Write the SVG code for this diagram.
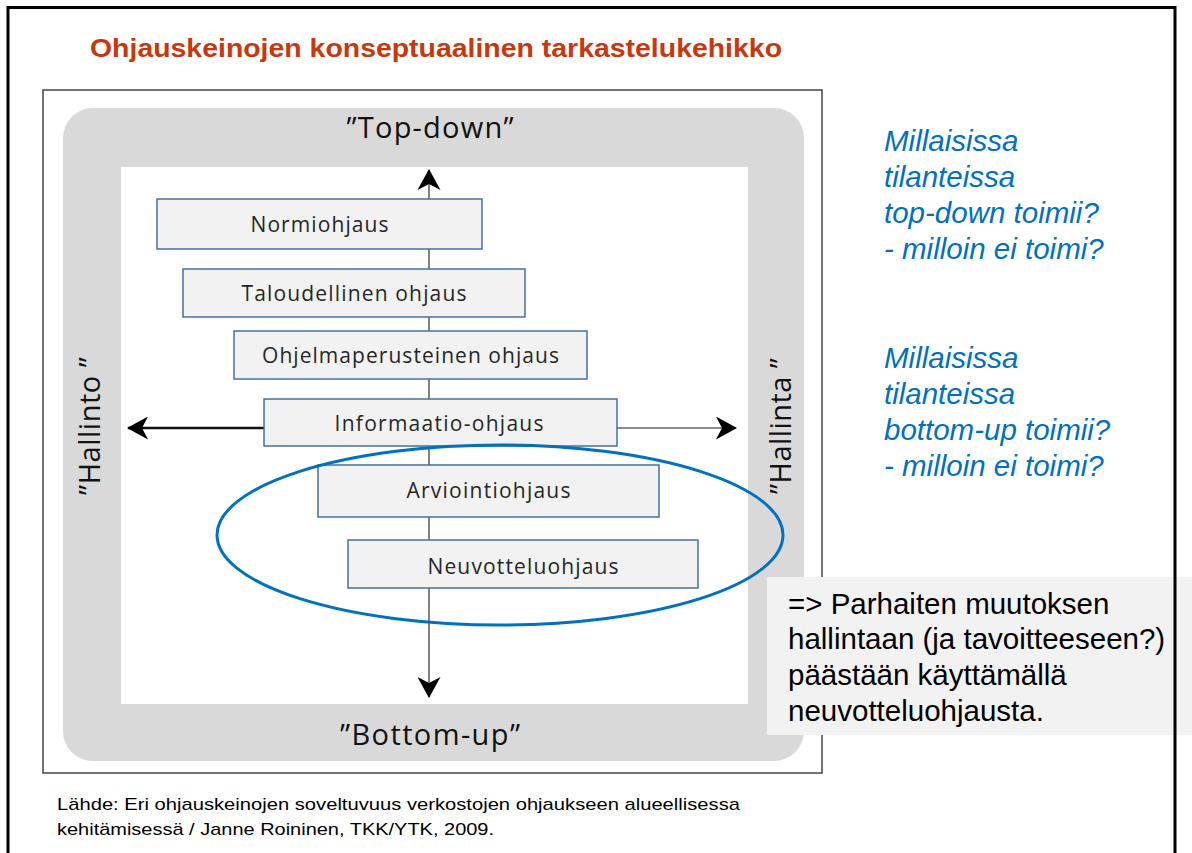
<svg xmlns="http://www.w3.org/2000/svg" width="1192" height="853" viewBox="0 0 1192 853">
<style>
.box{fill:#f2f2f2;stroke:#41719c;stroke-width:1.5}
.nt{font-family:"Open Sans","Noto Sans",sans-serif;font-size:21px;fill:#262626;text-anchor:middle}
.big{font-family:"Open Sans","Noto Sans",sans-serif;font-size:29px;fill:#111;text-anchor:middle}
.q{font-family:"Liberation Sans",Arial,sans-serif;font-size:29.5px;font-style:italic;fill:#0070C0}
.note{font-family:"Liberation Sans",Arial,sans-serif;font-size:29.5px;fill:#000}
.src{font-family:"Liberation Sans",Arial,sans-serif;font-size:17px;fill:#000}
</style>
<defs>
<marker id="ah" markerUnits="userSpaceOnUse" markerWidth="21" markerHeight="23" viewBox="0 0 21 23" refX="20" refY="11.5" orient="auto">
<path d="M0,0 L21,11.5 L0,23 L6,11.5 Z" fill="#000"/>
</marker>
</defs>
<rect width="1192" height="853" fill="#fff"/>
<text x="90" y="57" font-family="Liberation Sans,Arial,sans-serif" font-size="26" font-weight="bold" fill="#C8380E" textLength="692" lengthAdjust="spacingAndGlyphs">Ohjauskeinojen konseptuaalinen tarkastelukehikko</text>
<g id="frame-image">
<rect x="43" y="90" width="779" height="683" fill="#fff" stroke="#444" stroke-width="1.5"/>
<rect x="63" y="108" width="741" height="653" rx="30" ry="30" fill="#d9d9d9"/>
<rect x="121" y="167" width="627" height="537" fill="#fff"/>
</g>
<g id="axis-labels">
<text class="big" x="430" y="138" textLength="167">”Top-down”</text>
<text class="big" x="430" y="745" textLength="180">”Bottom-up”</text>
<text class="big" transform="translate(100,426) rotate(-90)" textLength="138">”Hallinto ”</text>
<text class="big" transform="translate(791,426) rotate(-90)" textLength="136">”Hallinta ”</text>
</g>
<g id="connectors">
<line x1="429" y1="588" x2="429" y2="697" stroke="#595959" stroke-width="1.5" marker-end="url(#ah)"/>
<line x1="429" y1="199" x2="429" y2="170" stroke="#595959" stroke-width="1.5" marker-end="url(#ah)"/>
<line x1="429" y1="249" x2="429" y2="540" stroke="#595959" stroke-width="1.5"/>
<line x1="264" y1="428" x2="128" y2="428" stroke="#111" stroke-width="2.5" marker-end="url(#ah)"/>
<line x1="617" y1="428" x2="736" y2="428" stroke="#8c8c8c" stroke-width="2" marker-end="url(#ah)"/>
</g>
<g id="n-normi"><rect class="box" x="157" y="199" width="325" height="50"/><text class="nt" x="319.5" y="232" textLength="138">Normiohjaus</text></g>
<g id="n-talous"><rect class="box" x="183" y="269" width="342" height="48"/><text class="nt" x="354" y="301" textLength="225">Taloudellinen ohjaus</text></g>
<g id="n-ohjelma"><rect class="box" x="234" y="331" width="353" height="48"/><text class="nt" x="410.5" y="363" textLength="297">Ohjelmaperusteinen ohjaus</text></g>
<g id="n-info"><rect class="box" x="264" y="399" width="353" height="47"/><text class="nt" x="439" y="431" textLength="209">Informaatio-ohjaus</text></g>
<g id="n-arvio"><rect class="box" x="318" y="465" width="341" height="52"/><text class="nt" x="488.5" y="498" textLength="164">Arviointiohjaus</text></g>
<g id="n-neuvo"><rect class="box" x="348" y="540" width="350" height="48"/><text class="nt" x="523" y="574" textLength="191">Neuvotteluohjaus</text></g>
<ellipse id="highlight" cx="500" cy="535" rx="283" ry="90" fill="none" stroke="#0070C0" stroke-width="3"/>
<g id="questions">
<text class="q" x="884" y="151">Millaisissa</text>
<text class="q" x="884" y="187">tilanteissa</text>
<text class="q" x="884" y="223">top-down toimii?</text>
<text class="q" x="884" y="259">- milloin ei toimi?</text>
<text class="q" x="884" y="368">Millaisissa</text>
<text class="q" x="884" y="404">tilanteissa</text>
<text class="q" x="884" y="440">bottom-up toimii?</text>
<text class="q" x="884" y="476">- milloin ei toimi?</text>
</g>
<g id="conclusion">
<rect x="767" y="577" width="425" height="158" fill="#f2f2f2"/>
<text class="note" x="788" y="614">=&gt; Parhaiten muutoksen</text>
<text class="note" x="788" y="649">hallintaan (ja tavoitteeseen?)</text>
<text class="note" x="788" y="685">päästään käyttämällä</text>
<text class="note" x="788" y="721">neuvotteluohjausta.</text>
</g>
<g id="source">
<text class="src" x="57" y="810" textLength="683" lengthAdjust="spacingAndGlyphs">Lähde: Eri ohjauskeinojen soveltuvuus verkostojen ohjaukseen alueellisessa</text>
<text class="src" x="57" y="835" textLength="437" lengthAdjust="spacingAndGlyphs">kehitämisessä / Janne Roininen, TKK/YTK, 2009.</text>
</g>
<path id="slide-frame" d="M8,853 V7.5 H1175 V853" fill="none" stroke="#000" stroke-width="3"/>
</svg>
